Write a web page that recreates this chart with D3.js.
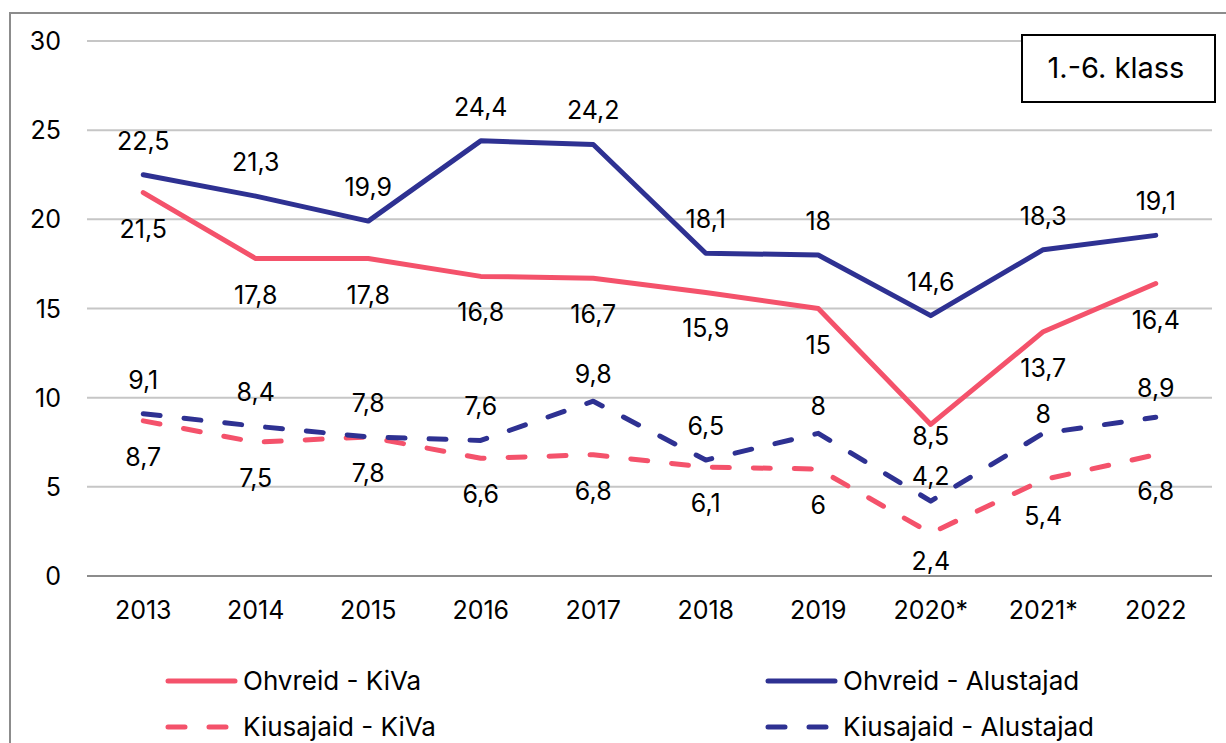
<!DOCTYPE html>
<html>
<head>
<meta charset="utf-8">
<script src="https://cdn.jsdelivr.net/npm/d3@7"></script>
<style>
body{margin:0;background:#fff;}
svg{display:block;font-family:Inter,"Noto Sans",sans-serif;}
</style>
</head>
<body>
<div id="chart"></div>
<script>
const years = ["2013","2014","2015","2016","2017","2018","2019","2020*","2021*","2022"];
const ohvreidKiva = [21.5,17.8,17.8,16.8,16.7,15.9,15,8.5,13.7,16.4];
const ohvreidAlustajad = [22.5,21.3,19.9,24.4,24.2,18.1,18,14.6,18.3,19.1];
const kiusajaidKiva = [8.7,7.5,7.8,6.6,6.8,6.1,6,2.4,5.4,6.8];
const kiusajaidAlustajad = [9.1,8.4,7.8,7.6,9.8,6.5,8,4.2,8,8.9];
const yTicks = [0,5,10,15,20,25,30];
const boxLabel = "1.-6. klass";

const width = 1226, height = 743;
const margin = {top:41,right:14,bottom:167,left:87};
const pink = "#f4526b", navy = "#2e3192";

// small per-label nudges so crowded labels sit like in the original
const nudges = {
"Ohvreid - KiVa": {"2020*":-24},
"Kiusajaid - KiVa": {"2020*":-8},
"Kiusajaid - Alustajad": {"2017":7,"2019":7,"2020*":9,"2021*":15,"2022":5}
};

const series = [
{name:"Ohvreid - KiVa",values:ohvreidKiva,color:pink,dash:null,labelPos:"below"},
{name:"Ohvreid - Alustajad",values:ohvreidAlustajad,color:navy,dash:null,labelPos:"above"},
{name:"Kiusajaid - KiVa",values:kiusajaidKiva,color:pink,dash:"17,24",labelPos:"below"},
{name:"Kiusajaid - Alustajad",values:kiusajaidAlustajad,color:navy,dash:"17,24",labelPos:"above"}
];

const svg = d3.select("#chart").append("svg")
.attr("width",width).attr("height",height);

// outer frame
svg.append("rect")
.attr("x",10).attr("y",13)
.attr("width",width+20).attr("height",height+20)
.attr("fill","none").attr("stroke","#8c8c8c").attr("stroke-width",2);

const x = d3.scaleBand().domain(years).range([margin.left,width-margin.right]);
const y = d3.scaleLinear().domain([0,30]).range([height-margin.bottom,margin.top]);

// gridlines
svg.append("g").selectAll("line")
.data(yTicks)
.join("line")
.attr("x1",margin.left).attr("x2",width-margin.right)
.attr("y1",d=>y(d)).attr("y2",d=>y(d))
.attr("stroke",d=>d===0?"#8c8c8c":"#c6c6c6")
.attr("stroke-width",2);

// y axis labels
svg.append("g").selectAll("text")
.data(yTicks)
.join("text")
.attr("x",61).attr("y",d=>y(d)+9)
.attr("text-anchor","end")
.attr("font-size","25px")
.attr("fill","#000")
.text(d=>d);

// x axis labels
svg.append("g").selectAll("text")
.data(years)
.join("text")
.attr("x",d=>x(d)+x.bandwidth()/2)
.attr("y",y(0)+43)
.attr("text-anchor","middle")
.attr("font-size","25px")
.attr("fill","#000")
.text(d=>d);

const line = d3.line()
.x((d,i)=>x(years[i])+x.bandwidth()/2)
.y(d=>y(d));

series.forEach(s=>{
svg.append("path")
.datum(s.values)
.attr("fill","none")
.attr("stroke",s.color)
.attr("stroke-width",5)
.attr("stroke-linecap","round")
.attr("stroke-linejoin","round")
.attr("stroke-dasharray",s.dash)
.attr("d",line);
});

// data labels
series.forEach(s=>{
const nd = nudges[s.name]||{};
svg.append("g").selectAll("text")
.data(s.values)
.join("text")
.attr("x",(d,i)=>x(years[i])+x.bandwidth()/2)
.attr("y",(d,i)=>(s.labelPos==="above"?y(d)-25:y(d)+45)+(nd[years[i]]||0))
.attr("text-anchor","middle")
.attr("font-size","25px")
.attr("fill","#000")
.text(d=>String(d).replace(".",","));
});

// box label
svg.append("rect")
.attr("x",1022).attr("y",35)
.attr("width",193).attr("height",67)
.attr("fill","#fff").attr("stroke","#000").attr("stroke-width",2);
svg.append("text")
.attr("x",1116).attr("y",78)
.attr("text-anchor","middle")
.attr("font-size","29px")
.attr("fill","#000")
.text(boxLabel);

// legend
const legendPos = [
{x:166,y:681},{x:766,y:681},{x:166,y:727},{x:766,y:727}
];
series.forEach((s,i)=>{
const p = legendPos[i];
const g = svg.append("g").attr("transform",`translate(${p.x},${p.y})`);
g.append("line")
.attr("x1",2).attr("x2",s.dash?68:69)
.attr("stroke",s.color).attr("stroke-width",5)
.attr("stroke-linecap","round")
.attr("stroke-dasharray",s.dash?"17,24":null);
g.append("text")
.attr("x",77).attr("y",9)
.attr("font-size","26px")
.attr("fill","#000")
.text(s.name);
});
</script>
</body>
</html>
